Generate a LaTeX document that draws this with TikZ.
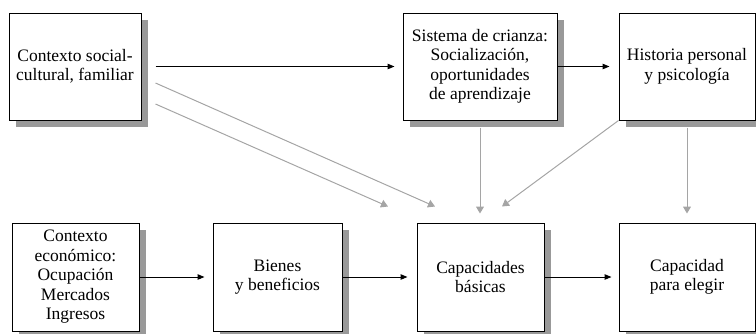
\documentclass[tikz,border=0pt]{standalone}
\usepackage{fontspec}
\setmainfont{Liberation Serif}
\usetikzlibrary{arrows.meta,shadows,calc}
\definecolor{shadowgray}{RGB}{153,153,153}
\definecolor{arrgray}{RGB}{165,165,165}
\begin{document}
\begin{tikzpicture}[x=1pt,y=-1pt,
  box/.style={draw=black,line width=1pt,fill=white,align=center,
    inner sep=2pt,minimum height=107pt,
    font=\fontsize{17.5}{19.5}\selectfont,
    drop shadow={shadow xshift=7pt,shadow yshift=-7pt,fill=shadowgray,opacity=1}},
  blackarrow/.style={draw=black,line width=1pt,-{Triangle[length=7pt,width=5.5pt]}},
  grayarrow/.style={draw=arrgray,line width=1pt,-{Triangle[length=7pt,width=8pt]}}]
\useasboundingbox (0,0) rectangle (756,333);
% top row
\node[box,minimum width=132pt] (b1) at (75,66.5) {Contexto social-\\cultural, familiar};
\node[box,minimum width=154pt] (b2) at (480,66.5) {Sistema de crianza:\\Socialización,\\oportunidades\\de aprendizaje};
\node[box,minimum width=136pt] (b3) at (687,66.5) {Historia personal\\y psicología};
% bottom row
\node[box,minimum width=127pt,minimum height=108pt] (b4) at (75.5,277) {Contexto\\económico:\\Ocupación\\Mercados\\Ingresos};
\node[box,minimum width=129pt,minimum height=108pt] (b5) at (277.5,277) {Bienes\\y beneficios};
\node[box,minimum width=127pt,minimum height=108pt] (b6) at (480.5,277) {Capacidades\\básicas};
\node[box,minimum width=136pt,minimum height=108pt] (b7) at (687,277) {Capacidad\\para elegir};
% black arrows
\draw[blackarrow] ([xshift=14pt]b1.east) -- ([xshift=-8pt]b2.west);
\draw[blackarrow] (b2.east) -- ([xshift=-9pt]b3.west);
\draw[blackarrow] (b4.east) -- ([xshift=-8pt]b5.west);
\draw[blackarrow] (b5.east) -- ([xshift=-9pt]b6.west);
\draw[blackarrow] (b6.east) -- ([xshift=-7pt]b7.west);
% gray arrows
\coordinate (t6) at ([yshift=16pt]b6.north);
\coordinate (t7) at ([yshift=16pt]b7.north);
\draw[grayarrow] ([xshift=14pt,yshift=-16.5pt]b1.east) -- ([xshift=-45.5pt]t6);
\draw[grayarrow] ([xshift=14pt,yshift=-37.5pt]b1.east) -- ([xshift=-92.5pt]t6);
\draw[grayarrow] ([yshift=-7pt]b2.south) -- ([yshift=-7pt]b2.south |- t6);
\draw[grayarrow] (b3.south west) -- ([xshift=21.5pt]t6);
\draw[grayarrow] ([yshift=-7pt]b3.south) -- ([yshift=-7pt]b3.south |- t7);
\end{tikzpicture}
\end{document}
